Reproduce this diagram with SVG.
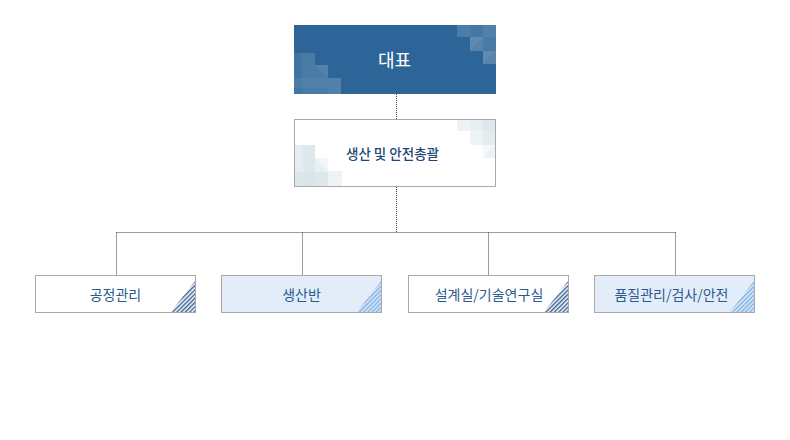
<svg xmlns="http://www.w3.org/2000/svg" width="790" height="440" viewBox="0 0 790 440">
<style>
.lbl{font-family:"Noto Sans CJK KR","Noto Sans",sans-serif;text-anchor:middle;dominant-baseline:central}
.leaf{stroke:#a9a9a9;stroke-width:1}
.w{fill:#ffffff}
.b{fill:#e2edf9}
.t{font-size:14px;fill:#2c5a8e}
.con{fill:none;stroke:#3a3a3a;stroke-width:1;stroke-dasharray:1 1}
</style>
<defs>
<pattern id="hd" width="3" height="3" patternUnits="userSpaceOnUse" patternTransform="rotate(45)">
<rect width="3" height="3" fill="#ffffff"/>
<line x1="0.75" y1="0" x2="0.75" y2="3" stroke="#3b6595" stroke-width="1.5"/>
</pattern>
<pattern id="hl" width="3" height="3" patternUnits="userSpaceOnUse" patternTransform="rotate(45)">
<rect width="3" height="3" fill="#e2edf9"/>
<line x1="0.75" y1="0" x2="0.75" y2="3" stroke="#7fb1e4" stroke-width="1.5"/>
</pattern>
</defs>
<g id="connectors">
<line class="con" x1="396.5" y1="94" x2="396.5" y2="119"/>
<line class="con" x1="396.5" y1="187" x2="396.5" y2="232.5"/>
<line class="con" x1="116.5" y1="232.5" x2="675.5" y2="232.5"/>
<line class="con" x1="116.5" y1="232.5" x2="116.5" y2="275"/>
<line class="con" x1="302.5" y1="232.5" x2="302.5" y2="275"/>
<line class="con" x1="488.5" y1="232.5" x2="488.5" y2="275"/>
<line class="con" x1="675.5" y1="232.5" x2="675.5" y2="275"/>
</g>
<g id="ceo">
<rect x="294" y="25" width="202" height="69" fill="#2d6598"/>
<g fill="#ffffff">
<rect x="457" y="25" width="13" height="12" opacity="0.15"/>
<rect x="470" y="25" width="13" height="12" opacity="0.12"/>
<rect x="483" y="25" width="13" height="12" opacity="0.18"/>
<rect x="470" y="37" width="13" height="14" opacity="0.2"/>
<rect x="483" y="37" width="13" height="14" opacity="0.14"/>
<polygon points="470,37 483,37 470,51" opacity="0.06"/>
<rect x="483" y="51" width="13" height="13" opacity="0.2"/>
<polygon points="483,51 496,51 483,64" opacity="0.06"/>
<rect x="294" y="53" width="8" height="41" opacity="0.1"/>
<rect x="302" y="53" width="13" height="41" opacity="0.14"/>
<rect x="315" y="65" width="13" height="29" opacity="0.14"/>
<polygon points="315,65 328,65 328,78" opacity="0.06"/>
<rect x="328" y="78" width="13" height="16" opacity="0.18"/>
<rect x="294" y="78" width="34" height="10" opacity="0.05"/>
</g>
<text class="lbl" x="394.5" y="59" font-size="18" fill="#ffffff">대표</text>
</g>
<g id="general">
<rect x="294.5" y="119.5" width="201" height="67" fill="#ffffff" stroke="#a9a9a9"/>
<g>
<rect x="457" y="120" width="13" height="11" fill="#eef2f4"/>
<rect x="470" y="120" width="13" height="11" fill="#e9eff1"/>
<rect x="483" y="120" width="12" height="11" fill="#dde8ea"/>
<rect x="470" y="131" width="13" height="14" fill="#eef4f5"/>
<rect x="483" y="131" width="12" height="14" fill="#e4ecee"/>
<rect x="483" y="145" width="12" height="13" fill="#edf1f3"/>
<polygon points="483,145 495,145 483,158" fill="#f5f7f8"/>
<rect x="295" y="145" width="8" height="41" fill="#e6edf0"/>
<rect x="303" y="145" width="12" height="41" fill="#dde9ec"/>
<rect x="315" y="158" width="13" height="28" fill="#e8eff1"/>
<polygon points="315,158 328,158 328,171" fill="#f2f6f7"/>
<rect x="328" y="171" width="14" height="15" fill="#eef3f5"/>
<rect x="295" y="172" width="33" height="14" fill="#d7e2e6" opacity="0.6"/>
</g>
<text class="lbl" x="392.5" y="153" font-size="13.5" font-weight="500" fill="#1c4777">생산 및 안전총괄</text>
</g>
<g id="process">
<rect class="leaf w" x="35.5" y="275.5" width="160" height="37"/>
<polygon points="171,312 195,312 195,281" fill="url(#hd)"/>
<text class="lbl t" x="115.5" y="294">공정관리</text>
</g>
<g id="production">
<rect class="leaf b" x="221.5" y="275.5" width="160" height="37"/>
<polygon points="357,312 381,312 381,281" fill="url(#hl)"/>
<text class="lbl t" x="301.5" y="294">생산반</text>
</g>
<g id="design">
<rect class="leaf w" x="408.5" y="275.5" width="160" height="37"/>
<polygon points="544,312 568,312 568,281" fill="url(#hd)"/>
<text class="lbl t" x="489" y="294">설계실/기술연구실</text>
</g>
<g id="quality">
<rect class="leaf b" x="594.5" y="275.5" width="160" height="37"/>
<polygon points="730,312 754,312 754,281" fill="url(#hl)"/>
<text class="lbl t" x="671.5" y="294">품질관리/검사/안전</text>
</g>
</svg>
